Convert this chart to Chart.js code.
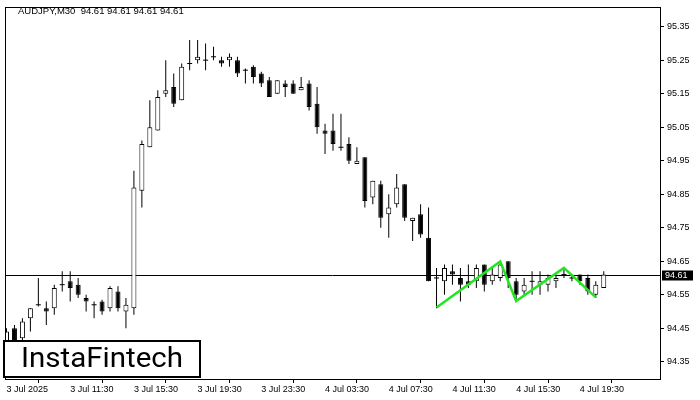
<!DOCTYPE html>
<html>
<head>
<meta charset="utf-8">
<script src="https://cdn.jsdelivr.net/npm/chart.js@4.4.0/dist/chart.umd.min.js"></script>
<style>
html,body{margin:0;padding:0;background:#fff;}
#wrap{width:700px;height:400px;position:relative;}
</style>
</head>
<body>
<div id="wrap"><canvas id="c" width="700" height="400"></canvas></div>
<script>
// ---- data ----
const symbolTitle = 'AUDJPY,M30  94.61 94.61 94.61 94.61';
const tickBars = [0, 8, 16, 24, 32, 40, 48, 56, 64, 72];
const tickLabels = ['3 Jul 2025', '3 Jul 11:30', '3 Jul 15:30', '3 Jul 19:30', '3 Jul 23:30',
  '4 Jul 03:30', '4 Jul 07:30', '4 Jul 11:30', '4 Jul 15:30', '4 Jul 19:30'];
const priceTicks = [94.35, 94.45, 94.55, 94.65, 94.75, 94.85, 94.95, 95.05, 95.15, 95.25, 95.35];
const opens = [94.40, 94.45, 94.42, 94.48, 94.52, 94.51, 94.51, 94.58, 94.59, 94.58,
  94.54, 94.52, 94.53, 94.51, 94.56, 94.50, 94.51, 94.86, 94.99, 95.04,
  95.15, 95.17, 95.13, 95.24, 95.25, 95.25, 95.26, 95.25, 95.25, 95.25,
  95.22, 95.23, 95.21, 95.19, 95.15, 95.18, 95.18, 95.16, 95.18, 95.12,
  95.04, 95.04, 94.99, 95.00, 94.94, 94.96, 94.84, 94.88, 94.79, 94.82,
  94.88, 94.77, 94.79, 94.72, 94.60, 94.59, 94.62, 94.60, 94.59, 94.59,
  94.64, 94.59, 94.60, 94.65, 94.59, 94.56, 94.59, 94.58, 94.58, 94.59,
  94.61, 94.60, 94.61, 94.60, 94.55, 94.57];
const highs = [94.45, 94.46, 94.48, 94.51, 94.60, 94.53, 94.58, 94.62, 94.62, 94.60,
  94.55, 94.53, 94.535, 94.575, 94.575, 94.54, 94.92, 95.01, 95.13, 95.16,
  95.25, 95.21, 95.24, 95.31, 95.31, 95.30, 95.29, 95.26, 95.27, 95.26,
  95.225, 95.235, 95.215, 95.20, 95.19, 95.19, 95.19, 95.20, 95.19, 95.17,
  95.06, 95.09, 95.09, 95.02, 94.99, 94.96, 94.89, 94.89, 94.85, 94.91,
  94.88, 94.78, 94.82, 94.81, 94.63, 94.64, 94.64, 94.63, 94.64, 94.64,
  94.64, 94.63, 94.65, 94.65, 94.60, 94.60, 94.62, 94.62, 94.61, 94.61,
  94.63, 94.61, 94.61, 94.61, 94.59, 94.62];
const lows = [94.38, 94.39, 94.40, 94.44, 94.515, 94.46, 94.49, 94.56, 94.53, 94.54,
  94.50, 94.48, 94.49, 94.50, 94.50, 94.45, 94.49, 94.81, 94.99, 95.04,
  95.14, 95.11, 95.13, 95.22, 95.24, 95.22, 95.25, 95.23, 95.23, 95.20,
  95.18, 95.18, 95.17, 95.14, 95.15, 95.14, 95.15, 95.16, 95.10, 95.03,
  94.97, 94.98, 94.98, 94.94, 94.94, 94.81, 94.82, 94.75, 94.72, 94.81,
  94.77, 94.71, 94.72, 94.59, 94.51, 94.55, 94.58, 94.53, 94.57, 94.57,
  94.56, 94.58, 94.59, 94.57, 94.53, 94.55, 94.55, 94.55, 94.56, 94.57,
  94.60, 94.59, 94.58, 94.55, 94.54, 94.57];
const closes = [94.44, 94.41, 94.47, 94.51, 94.52, 94.50, 94.57, 94.58, 94.57, 94.55,
  94.53, 94.52, 94.50, 94.57, 94.51, 94.52, 94.87, 95.00, 95.05, 95.14,
  95.16, 95.12, 95.23, 95.24, 95.26, 95.25, 95.26, 95.24, 95.26, 95.21,
  95.22, 95.20, 95.18, 95.14, 95.19, 95.17, 95.15, 95.17, 95.11, 95.05,
  95.03, 95.00, 94.99, 94.95, 94.95, 94.83, 94.89, 94.78, 94.81, 94.87,
  94.78, 94.78, 94.73, 94.59, 94.60, 94.63, 94.61, 94.58, 94.58, 94.63,
  94.58, 94.61, 94.64, 94.60, 94.55, 94.58, 94.59, 94.59, 94.60, 94.60,
  94.61, 94.60, 94.59, 94.56, 94.58, 94.61];
const patternBars = [54, 62, 64, 70, 74];
const patternPrices = [94.512, 94.649, 94.531, 94.630, 94.542];
const currentPrice = 94.61;
const logoText = 'InstaFintech';

// ---- build datasets ----
const bodyData = [], bodyColors = [], dojiData = [], wickData = [];
for (let i = 0; i < opens.length; i++) {
  wickData.push({x: i, y: [lows[i], highs[i]]});
  if (opens[i] === closes[i]) {
    dojiData.push({x: i, y: opens[i]});
  } else {
    bodyData.push({x: i, y: [opens[i], closes[i]]});
    bodyColors.push(closes[i] > opens[i] ? '#ffffff' : '#000000');
  }
}
const patternData = patternBars.map((b, k) => ({x: b, y: patternPrices[k]}));

const FONT = '"Liberation Sans", Arial, sans-serif';

const overlay = {
  id: 'overlay',
  beforeDatasetsDraw(chart) {
    const ctx = chart.ctx, a = chart.chartArea, y = chart.scales.y;
    const py = Math.round(y.getPixelForValue(currentPrice)) + 0.5;
    ctx.save();
    ctx.strokeStyle = '#000'; ctx.lineWidth = 1;
    ctx.beginPath(); ctx.moveTo(a.left, py); ctx.lineTo(a.right, py); ctx.stroke();
    ctx.restore();
  },
  afterDraw(chart) {
    const ctx = chart.ctx, a = chart.chartArea, y = chart.scales.y;
    ctx.save();
    // frame
    ctx.strokeStyle = '#000'; ctx.lineWidth = 1;
    ctx.strokeRect(Math.floor(a.left) + 0.5, Math.floor(a.top) - 0.5, Math.round(a.right - a.left), Math.round(a.bottom - a.top) + 1);
    // title
    ctx.fillStyle = '#000';
    ctx.font = '9.5px ' + FONT;
    ctx.textBaseline = 'middle'; ctx.textAlign = 'left';
    ctx.fillText(symbolTitle, 18, 11.5);
    // current price label
    const py = Math.round(y.getPixelForValue(currentPrice));
    ctx.fillStyle = '#000';
    ctx.fillRect(a.right + 2, py - 4.5, 31, 10);
    ctx.fillStyle = '#fff';
    ctx.font = '9px ' + FONT;
    ctx.fillText(currentPrice.toFixed(2), a.right + 5, py + 0.5);
    // logo
    ctx.fillStyle = '#fff';
    ctx.fillRect(4, 341, 196, 36);
    ctx.strokeStyle = '#000'; ctx.lineWidth = 2;
    ctx.strokeRect(4, 341, 196, 36);
    ctx.fillStyle = '#000';
    ctx.font = '400 28px Roboto, "Open Sans", sans-serif';
    const w = ctx.measureText(logoText).width;
    ctx.translate(21, 360);
    ctx.scale(162 / w, 1);
    ctx.textBaseline = 'middle';
    ctx.fillText(logoText, 0, 0);
    ctx.restore();
  }
};

new Chart(document.getElementById('c'), {
  data: {
    datasets: [
      {type: 'line', data: patternData, borderColor: '#22e622', borderWidth: 2.5, pointRadius: 0, tension: 0, order: 0},
      {type: 'scatter', data: dojiData, pointStyle: 'line', pointRadius: 2.5, borderColor: '#000', borderWidth: 1, order: 1},
      {type: 'bar', data: bodyData, backgroundColor: bodyColors, borderColor: '#000', borderWidth: 1,
        borderSkipped: false, barThickness: 5, inflateAmount: 0, grouped: false, order: 2},
      {type: 'bar', data: wickData, backgroundColor: '#000', borderWidth: 0, barThickness: 1, inflateAmount: 0, grouped: false, order: 3}
    ]
  },
  options: {
    responsive: false,
    animation: false,
    events: [],
    layout: {padding: {left: 2, top: 3, right: 0, bottom: 0}},
    plugins: {legend: {display: false}, tooltip: {enabled: false}},
    scales: {
      x: {
        type: 'linear', position: 'bottom', offset: false,
        min: -0.1875, max: 82.0625,
        afterBuildTicks: s => { s.ticks = tickBars.map(v => ({value: v})); },
        afterFit: s => { s.height = 21; },
        grid: {display: true, drawOnChartArea: false, drawTicks: true, tickLength: 4, color: '#000'},
        border: {display: false},
        ticks: {
          autoSkip: false, maxRotation: 0, minRotation: 0, align: 'start', padding: 1,
          color: '#000', font: {family: FONT, size: 9},
          callback: (v, i) => tickLabels[i]
        }
      },
      y: {
        type: 'linear', position: 'right',
        min: 94.29853, max: 95.40441,
        afterBuildTicks: s => { s.ticks = priceTicks.map(v => ({value: v})); },
        afterFit: s => { s.width = 40; },
        grid: {display: true, drawOnChartArea: false, drawTicks: true, tickLength: 4, color: '#000'},
        border: {display: false},
        ticks: {
          padding: 3, color: '#000', font: {family: FONT, size: 9},
          callback: v => Number(v).toFixed(2)
        }
      }
    }
  },
  plugins: [overlay]
});
</script>
</body>
</html>
